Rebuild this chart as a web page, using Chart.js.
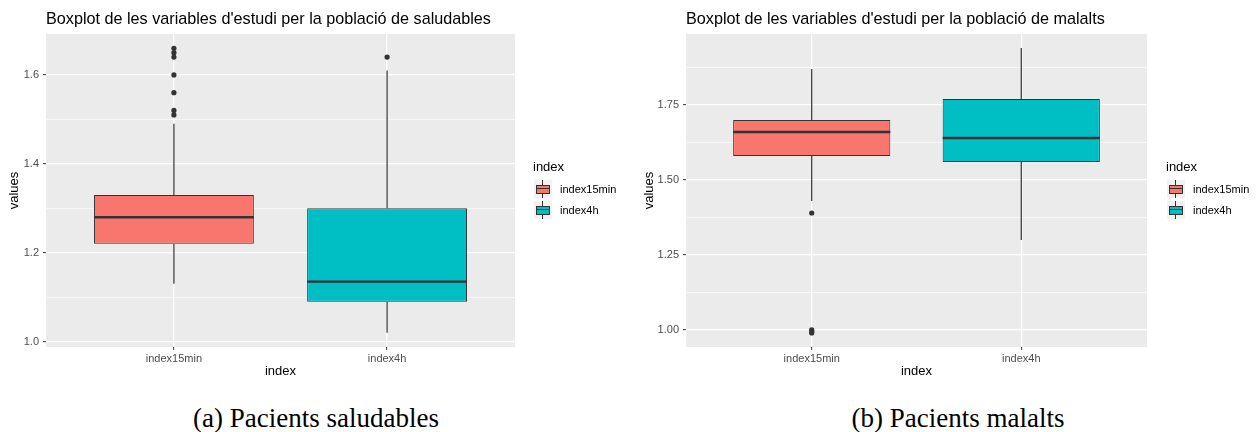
<!DOCTYPE html>
<html>
<head>
<meta charset="utf-8">
<script src="https://cdn.jsdelivr.net/npm/chart.js@4.4.1/dist/chart.umd.min.js"></script>
<style>
  body { margin: 0; width: 1259px; height: 432px; background: #fff; position: relative; overflow: hidden;
         font-family: 'Liberation Sans', Arial, sans-serif; }
  .wrap { position: absolute; top: 0; height: 390px; }
  .title { position: absolute; top: 10px; font-size: 16.2px; line-height: 16px; color: #000; white-space: nowrap; }
  .legend { position: absolute; top: 159px; }
  .lg-title { font-size: 13px; line-height: 15px; color: #000; margin-left: -1px; }
  .lg-row { position: absolute; left: 0; height: 18px; white-space: nowrap; }
  .key { position: absolute; left: 0; top: 0; width: 18px; height: 18px; background: #F2F2F2; }
  .key .wh { position: absolute; left: 8px; top: 0; width: 1px; height: 18px; background: #333; }
  .key .bx { position: absolute; left: 2px; top: 5px; width: 12px; height: 7px; border: 1px solid #333; }
  .key .md { position: absolute; left: 2px; top: 8px; width: 14px; height: 1px; background: #333; }
  .lg-label { position: absolute; left: 26px; top: 0; font-size: 11px; line-height: 18px; color: #000; }
  .caption { position: absolute; top: 405px; font-family: 'Liberation Serif', 'Times New Roman', serif;
             font-size: 27px; line-height: 27px; color: #000; white-space: nowrap; transform: translateX(-50%); }
</style>
</head>
<body>

<div class="wrap" style="left:0;width:620px"><canvas id="grafico-saludables"></canvas></div>
<div class="wrap" style="left:640px;width:619px"><canvas id="grafico-malalts"></canvas></div>

<div class="title" style="left:46px">Boxplot de les variables d'estudi per la població de saludables</div>
<div class="title" style="left:686px">Boxplot de les variables d'estudi per la població de malalts</div>

<div class="legend" id="legend-saludables" style="left:534px"></div>
<div class="legend" id="legend-malalts" style="left:1167px"></div>

<div class="caption" style="left:316px">(a) Pacients saludables</div>
<div class="caption" style="left:958px">(b) Pacients malalts</div>

<script>
// ==========================
// DADES
// ==========================
const categories = ["index15min", "index4h"];
const fills = ["#F8766D", "#00BFC4"];

// saludables
const sanLower = [1.13, 1.02];
const sanQ1 = [1.22, 1.09];
const sanMedian = [1.28, 1.135];
const sanQ3 = [1.33, 1.30];
const sanUpper = [1.49, 1.61];
const sanOut15 = [1.51, 1.52, 1.56, 1.60, 1.64, 1.65, 1.66];
const sanOut4h = [1.64];
const sanMajor = [1.0, 1.2, 1.4, 1.6];
const sanMinor = [1.1, 1.3, 1.5];
const sanTickLabels = ["1.0", "1.2", "1.4", "1.6"];

// malalts
const malLower = [1.43, 1.30];
const malQ1 = [1.58, 1.56];
const malMedian = [1.66, 1.64];
const malQ3 = [1.70, 1.77];
const malUpper = [1.87, 1.94];
const malOut15 = [0.99, 0.995, 1.00, 1.39];
const malOut4h = [];
const malMajor = [1.00, 1.25, 1.50, 1.75];
const malMinor = [1.125, 1.375, 1.625, 1.875];
const malTickLabels = ["1.00", "1.25", "1.50", "1.75"];

// ==========================
// CONFIG GENERAL
// ==========================
Chart.defaults.font.family = "'Liberation Sans', Arial, sans-serif";
Chart.defaults.color = "#4D4D4D";

// fons gris del panell (estil ggplot)
const panelBg = {
  id: "panelBg",
  beforeDraw(chart) {
    const { ctx, chartArea: a } = chart;
    ctx.save();
    ctx.fillStyle = "#EBEBEB";
    ctx.fillRect(a.left, a.top, a.width, a.height);
    ctx.restore();
  }
};

// bigotis i mediana sobre les barres flotants
function boxExtras(lower, median, upper, q1, q3) {
  return {
    id: "boxExtras",
    afterDatasetsDraw(chart) {
      const { ctx } = chart;
      const y = chart.scales.y;
      const bars = chart.getDatasetMeta(0).data;
      ctx.save();
      ctx.strokeStyle = "#333";
      bars.forEach((bar, i) => {
        const cx = bar.x;
        ctx.lineWidth = 1.2;
        ctx.beginPath();
        ctx.moveTo(cx, y.getPixelForValue(q3[i]));
        ctx.lineTo(cx, y.getPixelForValue(upper[i]));
        ctx.moveTo(cx, y.getPixelForValue(q1[i]));
        ctx.lineTo(cx, y.getPixelForValue(lower[i]));
        ctx.stroke();
        ctx.lineWidth = 2.4;
        ctx.beginPath();
        ctx.moveTo(cx - bar.width / 2, y.getPixelForValue(median[i]));
        ctx.lineTo(cx + bar.width / 2, y.getPixelForValue(median[i]));
        ctx.stroke();
      });
      ctx.restore();
    }
  };
}

function makeBoxplot(id, d) {
  const isMajor = v => d.major.some(m => Math.abs(m - v) < 1e-9);
  const outliers = d.out15.map(v => ({ x: 1, y: v })).concat(d.out4h.map(v => ({ x: 2, y: v })));
  new Chart(document.getElementById(id), {
    type: "bar",
    data: {
      datasets: [{
        type: "bar",
        data: categories.map((c, i) => ({ x: i + 1, y: [d.q1[i], d.q3[i]] })),
        backgroundColor: fills,
        borderColor: "#333",
        borderWidth: 1,
        borderSkipped: false,
        categoryPercentage: 1,
        barPercentage: 0.75,
        order: 2
      }, {
        type: "scatter",
        data: outliers,
        pointRadius: 2.6,
        pointBackgroundColor: "#333",
        pointBorderWidth: 0,
        order: 1
      }]
    },
    options: {
      responsive: true,
      maintainAspectRatio: false,
      animation: false,
      layout: { padding: { top: 34, right: d.padRight, left: 0, bottom: 0 } },
      plugins: { legend: { display: false }, tooltip: { enabled: false } },
      scales: {
        x: {
          type: "linear",
          offset: false,
          min: 0.4,
          max: 2.6,
          afterBuildTicks: s => { s.ticks = categories.map((c, i) => ({ value: i + 1 })); },
          afterFit: s => { s.height = 43; },
          ticks: {
            autoSkip: false,
            maxRotation: 0,
            padding: 2,
            font: { size: 11 },
            color: "#4D4D4D",
            callback: v => categories[v - 1]
          },
          grid: { offset: false, color: "#FFFFFF", lineWidth: 1.3, tickColor: "#333", tickLength: 3, tickWidth: 1 },
          border: { display: false },
          title: { display: true, text: "index", color: "#000", font: { size: 13 }, padding: { top: 0, bottom: 11 } }
        },
        y: {
          min: d.min,
          max: d.max,
          afterBuildTicks: s => {
            s.ticks = d.major.concat(d.minor).sort((a, b) => a - b).map(v => ({ value: v }));
          },
          afterFit: s => { s.width = 46; },
          ticks: {
            autoSkip: false,
            padding: 4,
            font: { size: 11 },
            color: "#4D4D4D",
            callback: v => {
              const k = d.major.findIndex(m => Math.abs(m - v) < 1e-9);
              return k >= 0 ? d.labels[k] : "";
            }
          },
          grid: {
            color: "#FFFFFF",
            lineWidth: c => (c.tick && isMajor(c.tick.value)) ? 1.3 : 0.6,
            tickColor: c => (c.tick && isMajor(c.tick.value)) ? "#333" : "rgba(0,0,0,0)",
            tickLength: 3,
            tickWidth: 1
          },
          border: { display: false },
          title: { display: true, text: "values", color: "#000", font: { size: 13 }, padding: { top: d.titlePad, bottom: 0 } }
        }
      }
    },
    plugins: [panelBg, boxExtras(d.lower, d.median, d.upper, d.q1, d.q3)]
  });
}

function makeLegend(id) {
  const el = document.getElementById(id);
  let html = '<div class="lg-title">index</div>';
  categories.forEach((c, i) => {
    html += '<div class="lg-row" style="top:' + (21 + i * 21) + 'px">' +
      '<div class="key"><div class="wh"></div><div class="bx" style="background:' + fills[i] + '"></div><div class="md"></div></div>' +
      '<div class="lg-label">' + c + '</div></div>';
  });
  el.innerHTML = html;
}

// ==========================
// GRÀFICS
// ==========================
makeBoxplot("grafico-saludables", {
  lower: sanLower, q1: sanQ1, median: sanMedian, q3: sanQ3, upper: sanUpper,
  out15: sanOut15, out4h: sanOut4h, major: sanMajor, minor: sanMinor, labels: sanTickLabels,
  min: 0.988, max: 1.692, padRight: 105, titlePad: 7
});
makeBoxplot("grafico-malalts", {
  lower: malLower, q1: malQ1, median: malMedian, q3: malQ3, upper: malUpper,
  out15: malOut15, out4h: malOut4h, major: malMajor, minor: malMinor, labels: malTickLabels,
  min: 0.943, max: 1.987, padRight: 112, titlePad: 2
});
makeLegend("legend-saludables");
makeLegend("legend-malalts");
</script>
</body>
</html>
